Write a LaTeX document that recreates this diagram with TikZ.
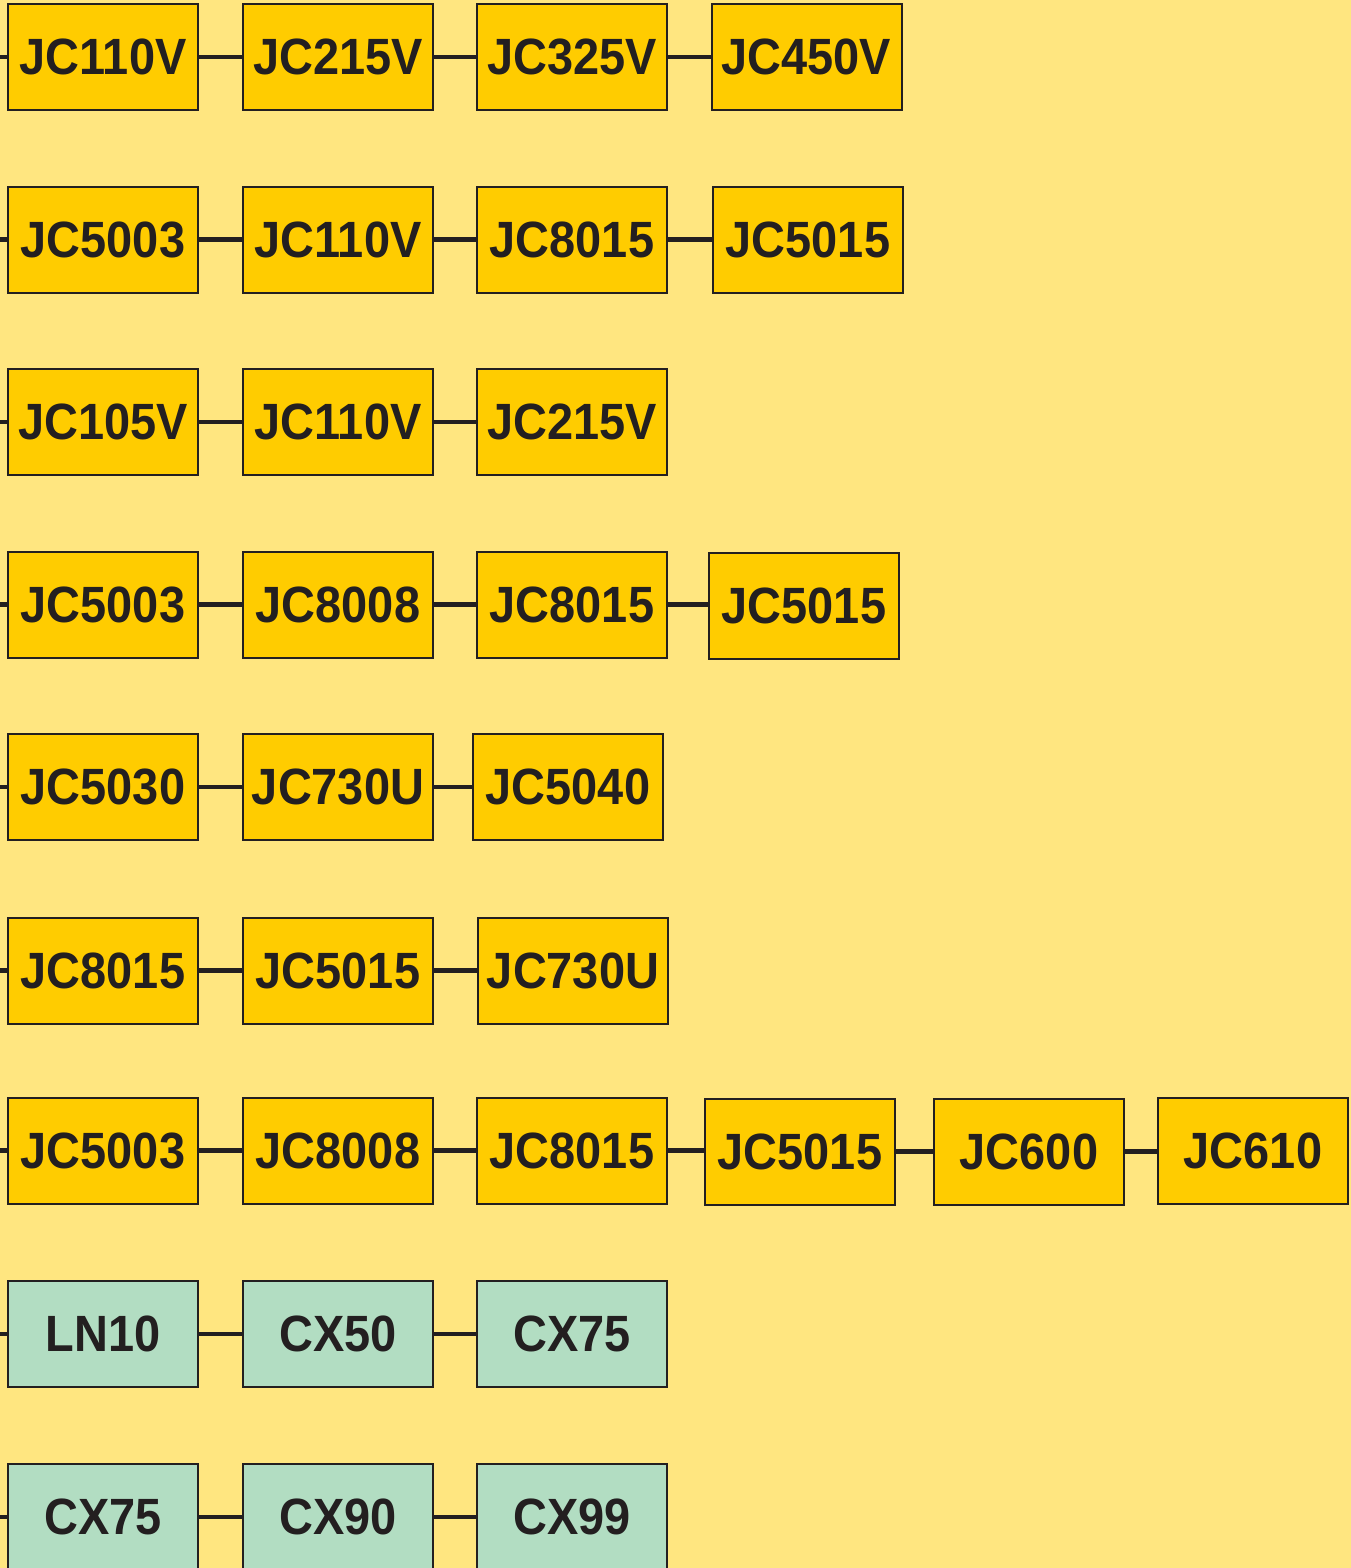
\documentclass[tikz,border=0pt]{standalone}
\usepackage{fontspec}
\setmainfont{Liberation Sans}
\newfontfamily\boxfont[FakeStretch=0.92]{Liberation Sans Bold}
\definecolor{bgy}{HTML}{FFE680}
\definecolor{boxy}{HTML}{FFCC00}
\definecolor{boxg}{HTML}{B2DDC2}
\definecolor{ink}{HTML}{231F20}
\tikzset{
  ybox/.style={draw=ink, line width=2pt, fill=boxy, minimum width=190pt, minimum height=106pt, inner sep=0pt, text=ink, font=\boxfont\fontsize{51}{51}\selectfont},
  gbox/.style={ybox, fill=boxg},
  link/.style={draw=ink, line width=4.5pt}
}
\begin{document}
\begin{tikzpicture}[x=1pt,y=-1pt]
\useasboundingbox (0,0) rectangle (1351,1568);
\fill[bgy] (0,0) rectangle (1351,1568);
% row 1
\node[ybox] (r1a) at (103,57) {JC110V};
\node[ybox] (r1b) at (338,57) {JC215V};
\node[ybox] (r1c) at (572,57) {JC325V};
\node[ybox] (r1d) at (806.5,57) {JC450V};
\coordinate (s1) at (0,57);
% row 2
\node[ybox] (r2a) at (103,239.5) {JC5003};
\node[ybox] (r2b) at (338,239.5) {JC110V};
\node[ybox] (r2c) at (572,239.5) {JC8015};
\node[ybox] (r2d) at (808,239.5) {JC5015};
\coordinate (s2) at (0,239.5);
% row 3
\node[ybox] (r3a) at (103,422) {JC105V};
\node[ybox] (r3b) at (338,422) {JC110V};
\node[ybox] (r3c) at (572,422) {JC215V};
\coordinate (s3) at (0,422);
% row 4
\node[ybox] (r4a) at (103,604.5) {JC5003};
\node[ybox] (r4b) at (338,604.5) {JC8008};
\node[ybox] (r4c) at (572,604.5) {JC8015};
\node[ybox] (r4d) at (804,605.5) {JC5015};
\coordinate (s4) at (0,604.5);
% row 5
\node[ybox] (r5a) at (103,787) {JC5030};
\node[ybox] (r5b) at (338,787) {JC730U};
\node[ybox] (r5c) at (568,787) {JC5040};
\coordinate (s5) at (0,787);
% row 6
\node[ybox] (r6a) at (103,970.5) {JC8015};
\node[ybox] (r6b) at (338,970.5) {JC5015};
\node[ybox] (r6c) at (573,970.5) {JC730U};
\coordinate (s6) at (0,970.5);
% row 7
\node[ybox] (r7a) at (103,1150.5) {JC5003};
\node[ybox] (r7b) at (338,1150.5) {JC8008};
\node[ybox] (r7c) at (572,1150.5) {JC8015};
\node[ybox] (r7d) at (800,1151.5) {JC5015};
\node[ybox] (r7e) at (1029,1151.5) {JC600};
\node[ybox] (r7f) at (1253,1150.5) {JC610};
\coordinate (s7) at (0,1150.5);
% row 8
\node[gbox] (r8a) at (103,1334) {LN10};
\node[gbox] (r8b) at (338,1334) {CX50};
\node[gbox] (r8c) at (572,1334) {CX75};
\coordinate (s8) at (0,1334);
% row 9
\node[gbox] (r9a) at (103,1517) {CX75};
\node[gbox] (r9b) at (338,1517) {CX90};
\node[gbox] (r9c) at (572,1517) {CX99};
\coordinate (s9) at (0,1517);
% connectors
\draw[link] (s1) -- (r1a.west);
\draw[link] (r1a) -- (r1b); \draw[link] (r1b) -- (r1c); \draw[link] (r1c) -- (r1d);
\draw[link] (s2) -- (r2a.west);
\draw[link] (r2a) -- (r2b); \draw[link] (r2b) -- (r2c); \draw[link] (r2c) -- (r2d);
\draw[link] (s3) -- (r3a.west);
\draw[link] (r3a) -- (r3b); \draw[link] (r3b) -- (r3c);
\draw[link] (s4) -- (r4a.west);
\draw[link] (r4a) -- (r4b); \draw[link] (r4b) -- (r4c); \draw[link] (r4c.east) -- (r4d.west |- r4c.east);
\draw[link] (s5) -- (r5a.west);
\draw[link] (r5a) -- (r5b); \draw[link] (r5b) -- (r5c);
\draw[link] (s6) -- (r6a.west);
\draw[link] (r6a) -- (r6b); \draw[link] (r6b) -- (r6c);
\draw[link] (s7) -- (r7a.west);
\draw[link] (r7a) -- (r7b); \draw[link] (r7b) -- (r7c);
\draw[link] (r7c.east) -- (r7d.west |- r7c.east);
\draw[link] (r7d.east) -- (r7e.west);
\draw[link] (r7e.east) -- (r7f.west |- r7e.east);
\draw[link] (s8) -- (r8a.west);
\draw[link] (r8a) -- (r8b); \draw[link] (r8b) -- (r8c);
\draw[link] (s9) -- (r9a.west);
\draw[link] (r9a) -- (r9b); \draw[link] (r9b) -- (r9c);
\end{tikzpicture}
\end{document}
